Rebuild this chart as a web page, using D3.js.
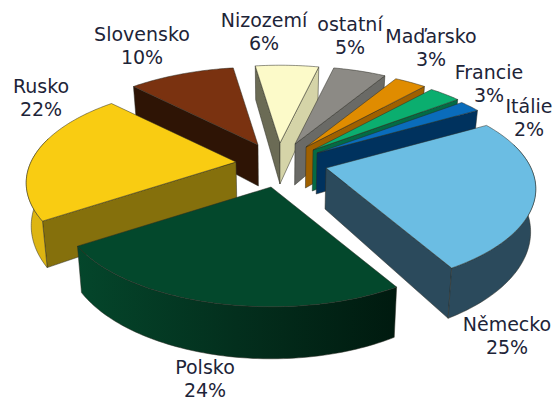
<!DOCTYPE html>
<html>
<head>
<meta charset="utf-8">
<script src="https://cdn.jsdelivr.net/npm/d3@7"></script>
<style>
  html, body { margin: 0; padding: 0; background: #fff; }
  text { font-family: "DejaVu Sans", sans-serif; font-size: 19px; fill: #1d2438; }
</style>
</head>
<body>
<div id="chart"></div>
<script>
var names = ["Německo", "Polsko", "Rusko", "Slovensko", "Nizozemí", "ostatní", "Maďarsko", "Francie", "Itálie"];
var values = [25, 24, 22, 10, 6, 5, 3, 3, 2];

var topColors = ["#6bbde3", "#03482c", "#f9cc12", "#7a3210", "#fcfac9", "#8c8a85", "#e08c00", "#0bae6f", "#0a6cbb"];
var startWall = ["#2b4a5c", "#03301e", "#85700c", "#2e1405", "#6b6b55", "#6a6a66", "#9f6000", "#036b45", "#00325e"];
var endWall = ["#2b4a5c", "#03301e", "#85700c", "#2e1405", "#d5d4a8", "#6a6a66", "#9f6000", "#036b45", "#00325e"];
var arcWall = ["#2b4a5c", "url(#polskoWall)", "#ddb512", "#2e1405", "#d5d4a8", "#6a6a66", "#9f6000", "#036b45", "#00325e"];

// back to front
var drawOrder = [3, 4, 5, 6, 7, 8, 0, 2, 1];

// where each exploded slice has its tip
var tipX = [326, 271, 236, 258, 280, 295, 306, 313, 317];
var tipY = [168, 187, 162, 145, 143, 144, 147, 150, 153];

var labelX = [507, 205, 41, 142, 264, 350, 431, 489, 529];
var labelY = [331, 374, 93, 41, 27, 31, 43, 79, 113];

var width = 554, height = 401;
var cx = 277;
var radius = 205, tilt = 0.46, persp = 0.2125;
var depth = 41, shrink = 0.98;

var svg = d3.select("#chart").append("svg")
  .attr("width", width)
  .attr("height", height);

var grad = svg.append("defs").append("linearGradient")
  .attr("id", "polskoWall");
grad.append("stop").attr("offset", "0%").attr("stop-color", "#04462b");
grad.append("stop").attr("offset", "50%").attr("stop-color", "#032f1d");
grad.append("stop").attr("offset", "100%").attr("stop-color", "#001a0f");

var pie = d3.pie()
  .sort(null)
  .startAngle(Math.PI / 3)
  .endAngle(Math.PI / 3 + 2 * Math.PI);
var arcs = pie(values);

// point on the rim of the flat pie to screen offset from the tip
function project(r, a) {
  var x = r * Math.sin(a), y = -r * Math.cos(a);
  var w = 1 / (1 - persp * y);
  return { x: radius * x * w, y: radius * tilt * y * w, w: w };
}

function point(r, a, i, low) {
  var p = project(r, a);
  var sx = tipX[i] + p.x, sy = tipY[i] + p.y;
  if (!low) return [sx, sy];
  return [cx + (sx - cx) * shrink, sy + depth * p.w];
}

function sweep(a0, a1) {
  var n = Math.max(2, Math.ceil((a1 - a0) / 0.02));
  return d3.range(n + 1).map(function(k) { return a0 + (a1 - a0) * k / n; });
}

var line = d3.line();
var chart = svg.append("g");

function face(pts, fill) {
  chart.append("path")
    .attr("d", line(pts) + "Z")
    .attr("fill", fill)
    .attr("stroke", "#2a2a22")
    .attr("stroke-width", 0.5)
    .attr("stroke-linejoin", "round");
}

drawOrder.forEach(function(i) {
  var d = arcs[i];

  // cut side on the start angle
  if (Math.sin(d.startAngle) < 0) {
    face([point(0, 0, i), point(1, d.startAngle, i), point(1, d.startAngle, i, true), point(0, 0, i, true)], startWall[i]);
  }
  // cut side on the end angle
  if (Math.sin(d.endAngle) > 0) {
    face([point(0, 0, i), point(1, d.endAngle, i), point(1, d.endAngle, i, true), point(0, 0, i, true)], endWall[i]);
  }
  // outer curved side, only the part facing the viewer
  var a0 = Math.max(d.startAngle, 75 * Math.PI / 180);
  var a1 = Math.min(d.endAngle, 285 * Math.PI / 180);
  if (a1 > a0) {
    var angles = sweep(a0, a1);
    var upper = angles.map(function(a) { return point(1, a, i); });
    var lower = angles.slice().reverse().map(function(a) { return point(1, a, i, true); });
    face(upper.concat(lower), arcWall[i]);
  }
  // top
  var rim = sweep(d.startAngle, d.endAngle).map(function(a) { return point(1, a, i); });
  face([point(0, 0, i)].concat(rim), topColors[i]);
});

var labels = svg.append("g")
  .selectAll("text")
  .data(names)
  .enter()
  .append("text")
  .attr("text-anchor", "middle")
  .attr("x", function(d, i) { return labelX[i]; })
  .attr("y", function(d, i) { return labelY[i]; });

labels.append("tspan").text(function(d) { return d; });
labels.append("tspan")
  .attr("x", function(d, i) { return labelX[i]; })
  .attr("dy", 23)
  .text(function(d, i) { return values[i] + "%"; });
</script>
</body>
</html>
